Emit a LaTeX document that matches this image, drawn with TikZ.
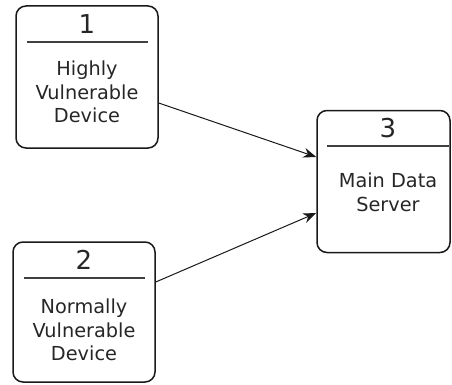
\documentclass[tikz,border=0pt]{standalone}
\usepackage{fontspec}
\setmainfont{DejaVu Sans}
\usetikzlibrary{arrows.meta,calc}
\begin{document}
\begin{tikzpicture}[x=1pt,y=1pt,
  procbox/.style={draw=black!90,line width=1.5pt,rounded corners=10pt,inner sep=0pt},
  numlabel/.style={font=\fontsize{26}{30}\selectfont,inner sep=0pt,anchor=base,text=black!85},
  desclabel/.style={font=\fontsize{19.3}{23.8}\selectfont,align=center,inner sep=0pt,anchor=north,text=black!85},
  sepline/.style={draw=black!75,line width=1.2pt},
  flow/.style={draw=black!90,line width=1pt,-{Stealth[length=13pt,width=10pt]}}]
\useasboundingbox (0,0) rectangle (452,384);
% box 1
\node[procbox,minimum width=142pt,minimum height=142pt] (b1) at (87,307) {};
\node[numlabel] (n1) at (87,351) {1};
\node[desclabel] (t1) at (87,323.5) {Highly\\Vulnerable\\Device};
\coordinate (l1a) at (27,342); \coordinate (l1b) at (148,342);
\draw[sepline] (l1a) -- (l1b);
% box 2
\node[procbox,minimum width=142pt,minimum height=140pt] (b2) at (84,72) {};
\node[numlabel] (n2) at (84,115) {2};
\node[desclabel] (t2) at (84,85.5) {Normally\\Vulnerable\\Device};
\coordinate (l2a) at (24,106); \coordinate (l2b) at (145,106);
\draw[sepline] (l2a) -- (l2b);
% box 3
\node[procbox,minimum width=133pt,minimum height=142pt] (b3) at (383.5,202.5) {};
\node[numlabel] (n3) at (388,247) {3};
\node[desclabel] (t3) at (388,211.5) {Main Data\\Server};
\coordinate (l3a) at (327,238); \coordinate (l3b) at (449,238);
\draw[sepline] (l3a) -- (l3b);
% connectors
\draw[flow] ([yshift=-26pt]b1.east) -- ([yshift=24.5pt]b3.west);
\draw[flow] ([yshift=30pt]b2.east) -- ([yshift=-31.5pt]b3.west);
\end{tikzpicture}
\end{document}
